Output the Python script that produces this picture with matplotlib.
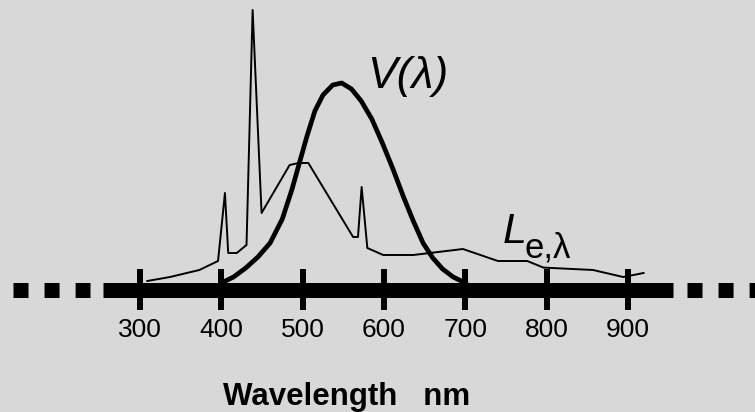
import matplotlib.pyplot as plt

plt.rcParams['font.family'] = ['Liberation Sans', 'DejaVu Sans']

# V(lambda): thick curve, relative values
wl_v = [400, 415, 430, 445, 460, 475, 487, 496, 505, 515, 525, 537, 548,
        560, 572, 585, 598, 611, 624, 636, 648, 660, 672, 685, 700]
v_lam = [0.0, 0.03, 0.075, 0.13, 0.2, 0.32, 0.47, 0.6, 0.73, 0.86, 0.94, 0.99, 1.0,
         0.97, 0.91, 0.82, 0.70, 0.57, 0.43, 0.31, 0.2, 0.125, 0.07, 0.03, 0.0]

# L_e,lambda: thin lamp spectrum with mercury lines
wl_le = [309, 337, 373, 396, 404.5, 408.5, 419, 431, 438.5, 449.5, 484, 495, 507,
         562, 568, 572.5, 579.5, 599, 636, 697, 740, 776, 796, 857, 894, 919]
le = [0.01, 0.03, 0.065, 0.11, 0.45, 0.15, 0.15, 0.19, 1.365, 0.35, 0.59, 0.60, 0.60,
      0.23, 0.23, 0.48, 0.175, 0.14, 0.14, 0.17, 0.11, 0.11, 0.077, 0.065, 0.03, 0.05]

ticks = [300, 400, 500, 600, 700, 800, 900]

fig = plt.figure(figsize=(7.55, 4.12), dpi=100, facecolor='#d8d8d8')
ax = fig.add_axes([0, 0, 1, 1])
ax.set_xlim(128, 1056)
ax.set_ylim(-0.645, 1.415)
ax.axis('off')

ax.plot(wl_v, v_lam, color='k', lw=3.4, solid_joinstyle='round', zorder=2)
ax.plot(wl_le, le, color='k', lw=1.4, zorder=2)

# the axis bar with dotted ends
ax.plot([254.5, 955.4], [-0.035, -0.035], color='k', lw=10.8,
        solid_capstyle='butt', zorder=3)
for seg in ([144, 238.5], [972.6, 1060]):
    ax.plot(seg, [-0.035, -0.035], color='k', lw=10.8,
            linestyle=(0, (1.0, 1.07)), dash_capstyle='butt', zorder=3)
ax.vlines(ticks, -0.135, 0.07, color='k', lw=4.3, zorder=3)

for t in ticks:
    ax.text(t, -0.27, str(t), ha='center', va='baseline', fontsize=19)

ax.text(553.8, -0.61, 'Wavelength   nm', ha='center', va='baseline',
        fontsize=22.5, fontweight='bold')
ax.text(579, 0.975, 'V(λ)', ha='left', va='baseline', fontsize=32, style='italic')
ax.text(746, 0.2, 'L', ha='left', va='baseline', fontsize=31, style='italic')
ax.text(773, 0.13, 'e,λ', ha='left', va='baseline', fontsize=25)

fig.savefig('out.png', dpi=100, facecolor=fig.get_facecolor())
